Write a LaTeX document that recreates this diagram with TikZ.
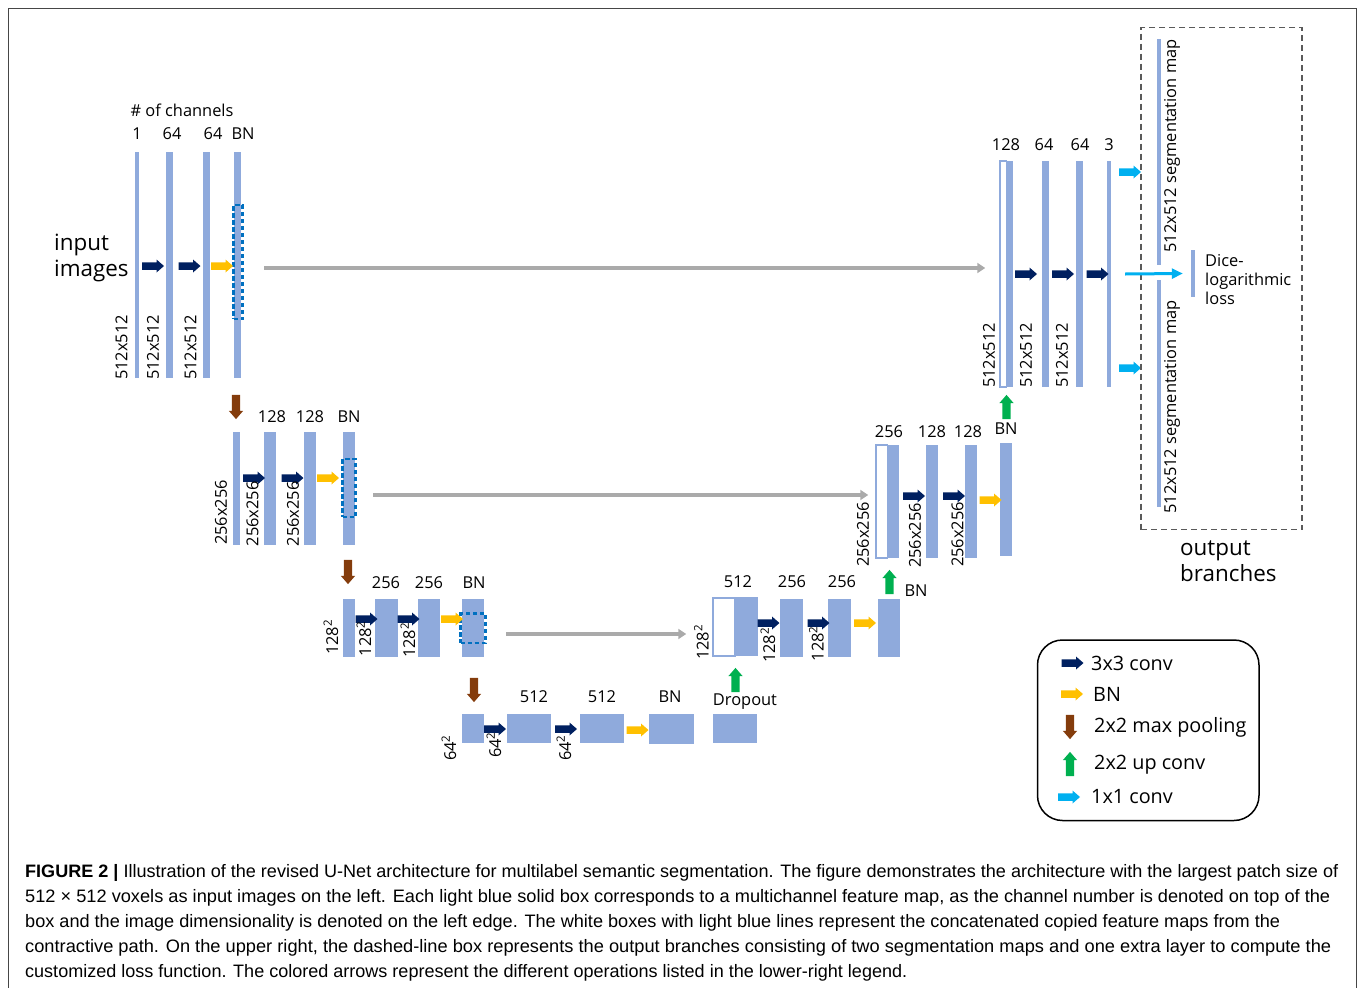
\documentclass[tikz,border=0pt]{standalone}
\usepackage{fontspec}
\usepackage{graphicx}
\setmainfont{Open Sans}
\newfontfamily\capfont{Liberation Sans}
\usetikzlibrary{arrows.meta,fit,calc}

\definecolor{mapblue}{RGB}{143,170,220}
\definecolor{navyarr}{RGB}{0,32,96}
\definecolor{goldarr}{RGB}{255,192,0}
\definecolor{brownarr}{RGB}{132,60,12}
\definecolor{greenarr}{RGB}{0,176,80}
\definecolor{cyanarr}{RGB}{0,176,240}
\definecolor{skipgray}{RGB}{170,170,170}
\definecolor{dashblue}{RGB}{0,112,192}
\definecolor{boxgray}{RGB}{90,90,90}
\definecolor{framegray}{RGB}{70,70,70}

\newcommand\chanfont{\fontsize{16.4}{19}\selectfont}
\newcommand\legfont{\fontsize{19.8}{23}\selectfont}
\newcommand\bigfont{\fontsize{22.4}{26}\selectfont}
\newcommand\capsize{\capfont\fontsize{18}{25}\selectfont}

\tikzset{
  fmap/.style={fill=mapblue, inner sep=0pt},
  catmap/.style={fill=white, draw=mapblue, line width=1.5pt, inner sep=0pt},
  bnmark/.style={draw=dashblue, line width=2.2pt, dash pattern=on 4.5pt off 2.5pt, inner sep=0pt},
  chan/.style={font=\chanfont, inner sep=0pt},
  dimlab/.style={font=\chanfont, rotate=90, anchor=west, inner sep=0pt},
  big/.style={font=\bigfont, align=left, anchor=west, inner sep=0pt},
  leg/.style={font=\legfont, anchor=west, inner sep=0pt},
  capline/.style={font=\capsize, anchor=base west, inner sep=0pt},
  skip/.style={draw=skipgray, line width=4pt, -{Triangle[length=8pt, width=10pt]}},
  outbox/.style={draw=boxgray, line width=1.3pt, dash pattern=on 6pt off 4pt, inner sep=0pt},
  legbox/.style={draw, line width=1.5pt, rounded corners=25pt, inner sep=0pt},
  pics/blk/.style={code={
    \fill[#1] (-11,-3.75) -- (3.5,-3.75) -- (3.5,-6.5) -- (11,0) -- (3.5,6.5) -- (3.5,3.75) -- (-11,3.75) -- cycle;
  }},
}

\begin{document}
\begin{tikzpicture}[x=1pt, y=-1pt]
  \useasboundingbox (0,0) rectangle (1358,988);
  \draw[framegray, line width=1pt] (8.5,988) -- (8.5,8.5) -- (1356,8.5) -- (1356,988);

  % contracting path, 512x512
  \node[fmap, fit={(135,152) (139,378)}] (e1a) {};
  \node[fmap, fit={(166,152) (173,378)}] (e1b) {};
  \node[fmap, fit={(202.5,152) (209.5,378)}] (e1c) {};
  \node[fmap, fit={(234,152) (241,378)}] (e1d) {};
  \node[bnmark, fit={(233.5,205) (242.5,319)}] (bn1) {};
  \pic at (153,266) {blk=navyarr};
  \pic at (189.5,266) {blk=navyarr};
  \pic at (222,266) {blk=goldarr};
  \node[chan] (nch) at (182,110) {\# of channels};
  \node[chan] (l1a) at (137,134) {1};
  \node[chan] (l1b) at (172,134) {64};
  \node[chan] (l1c) at (213,134) {64};
  \node[chan] (l1d) at (243,134) {BN};
  \node[dimlab] (s1a) at (121.5,380) {512x512};
  \node[dimlab] (s1b) at (153,380) {512x512};
  \node[dimlab] (s1c) at (190.5,380) {512x512};
  \node[big] (inp) at (54,258) {input\\images};

  % 256x256
  \pic[rotate=-90, scale=1.1] at (236,407) {blk=brownarr};
  \node[fmap, fit={(233,432) (240,545)}] (e2a) {};
  \node[fmap, fit={(264,432) (276,545)}] (e2b) {};
  \node[fmap, fit={(303.5,432) (315.5,545)}] (e2c) {};
  \node[fmap, fit={(342.5,432) (354.5,545)}] (e2d) {};
  \node[bnmark, fit={(342.5,459) (355.5,517)}] (bn2) {};
  \pic at (254,478) {blk=navyarr};
  \pic at (292.5,478) {blk=navyarr};
  \pic at (328,478) {blk=goldarr};
  \node[chan] (l2a) at (272,417) {128};
  \node[chan] (l2b) at (310,417) {128};
  \node[chan] (l2c) at (349,417) {BN};
  \node[dimlab] (s2a) at (221,545) {256x256};
  \node[dimlab] (s2b) at (252.5,546.5) {256x256};
  \node[dimlab] (s2c) at (293,546.5) {256x256};

  % 128x128
  \pic[rotate=-90, scale=1.1] at (348,572) {blk=brownarr};
  \node[fmap, fit={(342.5,599) (354.5,657)}] (e3a) {};
  \node[fmap, fit={(374.5,599) (397.5,657)}] (e3b) {};
  \node[fmap, fit={(418,599) (440,657)}] (e3c) {};
  \node[fmap, fit={(462,599) (484,657)}] (e3d) {};
  \node[bnmark, fit={(460.5,613.5) (485.5,643)}] (bn3) {};
  \pic at (366.5,619) {blk=navyarr};
  \pic at (408.5,619) {blk=navyarr};
  \pic at (452,619) {blk=goldarr};
  \node[chan] (l3a) at (386,583) {256};
  \node[chan] (l3b) at (429,583) {256};
  \node[chan] (l3c) at (474,583) {BN};
  \node[dimlab] (s3a) at (331,655) {128\textsuperscript{2}};
  \node[dimlab] (s3b) at (364,656.5) {128\textsuperscript{2}};
  \node[dimlab] (s3c) at (408,658) {128\textsuperscript{2}};

  % bottom, 64x64
  \pic[rotate=-90, scale=1.1] at (474,690) {blk=brownarr};
  \node[fmap, fit={(462,713.5) (484,743)}] (e4a) {};
  \node[fmap, fit={(507,713.5) (551,743)}] (e4b) {};
  \node[fmap, fit={(580,713.5) (624,743)}] (e4c) {};
  \node[fmap, fit={(648.5,714) (693.5,744)}] (e4d) {};
  \node[fmap, fit={(712.5,713.5) (756.5,743)}] (e4e) {};
  \pic at (495,729) {blk=navyarr};
  \pic at (566,729) {blk=navyarr};
  \pic at (637.5,730) {blk=goldarr};
  \pic[rotate=90, scale=1.1] at (735.5,680) {blk=greenarr};
  \node[chan] (l4a) at (534,697) {512};
  \node[chan] (l4b) at (602,697) {512};
  \node[chan] (l4c) at (670,697) {BN};
  \node[chan] (l4d) at (745,702) {Dropout};
  \node[dimlab] (s4a) at (449,761) {64\textsuperscript{2}};
  \node[dimlab] (s4b) at (494,758) {64\textsuperscript{2}};
  \node[dimlab] (s4c) at (564,761) {64\textsuperscript{2}};

  % expanding path, 128x128
  \node[catmap, fit={(713,598) (735,656)}] (d3w) {};
  \node[fmap, fit={(735,597) (757.5,656)}] (d3a) {};
  \node[fmap, fit={(780,599) (803,657)}] (d3b) {};
  \node[fmap, fit={(828,599) (851,657)}] (d3c) {};
  \node[fmap, fit={(877.5,599) (900,657)}] (d3d) {};
  \pic at (768.5,623) {blk=navyarr};
  \pic at (818.5,623) {blk=navyarr};
  \pic at (865,623) {blk=goldarr};
  \pic[rotate=90, scale=1.1] at (889.5,582) {blk=greenarr};
  \node[chan] (m3a) at (738,582) {512};
  \node[chan] (m3b) at (792,582) {256};
  \node[chan] (m3c) at (842,582) {256};
  \node[chan] (m3d) at (916,591) {BN};
  \node[dimlab] (t3a) at (701.5,660) {128\textsuperscript{2}};
  \node[dimlab] (t3b) at (768,663) {128\textsuperscript{2}};
  \node[dimlab] (t3c) at (816.5,661.5) {128\textsuperscript{2}};

  % 256x256
  \node[catmap, fit={(876,445) (887.5,558)}] (d2w) {};
  \node[fmap, fit={(887.5,445) (899,558)}] (d2a) {};
  \node[fmap, fit={(926,445) (938,558)}] (d2b) {};
  \node[fmap, fit={(964.5,445) (976.5,558)}] (d2c) {};
  \node[fmap, fit={(1000,442.5) (1012,556)}] (d2d) {};
  \pic at (914,496) {blk=navyarr};
  \pic at (954,496) {blk=navyarr};
  \pic at (990.5,500) {blk=goldarr};
  \pic[rotate=90, scale=1.1] at (1006.5,407) {blk=greenarr};
  \node[chan] (m2a) at (889,432) {256};
  \node[chan] (m2b) at (932,432) {128};
  \node[chan] (m2c) at (968,432) {128};
  \node[chan] (m2d) at (1006,429) {BN};
  \node[dimlab] (t2a) at (863,567) {256x256};
  \node[dimlab] (t2b) at (915,568) {256x256};
  \node[dimlab] (t2c) at (957.5,567) {256x256};

  % 512x512
  \node[catmap, fit={(1000,161) (1006.5,387)}] (d1w) {};
  \node[fmap, fit={(1006.5,161) (1012.5,387)}] (d1a) {};
  \node[fmap, fit={(1042,161) (1049,387)}] (d1b) {};
  \node[fmap, fit={(1076,161) (1083,387)}] (d1c) {};
  \node[fmap, fit={(1107,161) (1110.5,387)}] (d1d) {};
  \pic at (1026,274) {blk=navyarr};
  \pic at (1063,274) {blk=navyarr};
  \pic at (1097.5,274) {blk=navyarr};
  \pic at (1130,172) {blk=cyanarr};
  \pic at (1130,368) {blk=cyanarr};
  \node[chan] (m1a) at (1006,145) {128};
  \node[chan] (m1b) at (1044,145) {64};
  \node[chan] (m1c) at (1080,145) {64};
  \node[chan] (m1d) at (1109,145) {3};
  \node[dimlab] (t1a) at (989,388) {512x512};
  \node[dimlab] (t1b) at (1026,388) {512x512};
  \node[dimlab] (t1c) at (1062,388) {512x512};

  % copy connections
  \draw[skip] ($(e1d.east)+(23,3)$) -- ($(e1d.east -| d1w.west)+(-14,3)$);
  \draw[skip] ($(e2d.east)+(18.5,6.5)$) -- ($(e2d.east -| d2w.west)+(-7,6.5)$);
  \draw[skip] ($(e3d.east)+(22,6)$) -- ($(e3d.east -| d3w.west)+(-26,6)$);

  % output branches
  \node[outbox, fit={(1141,27.5) (1302,529.5)}] (outb) {};
  \node[fmap, fit={(1157,39) (1161,265)}] (seg1) {};
  \node[fmap, fit={(1157,280) (1161,507)}] (seg2) {};
  \node[fmap, fit={(1191,250) (1195,297)}] (dice) {};
  \node[chan, rotate=90] (g1) at (1172,146) {512x512 segmentation map};
  \node[chan, rotate=90] (g2) at (1172,407) {512x512 segmentation map};
  \node[chan, align=left, anchor=west] (dtxt) at (1205,280) {Dice-\\logarithmic\\loss};
  \draw[cyanarr, line width=3pt, -{Triangle[length=11pt, width=10pt]}]
    ($(d1d.east)+(14.5,0)$) -- ($(dice.west)+(-8,0)$);
  \node[big] (outl) at (1180,561) {output\\branches};

  % legend
  \node[legbox, fit={(1037.5,640) (1259,820.5)}] (legend) {};
  \pic at (1072.5,663) {blk=navyarr};
  \pic at (1072,694) {blk=goldarr};
  \pic[rotate=-90, scale=1.1] at (1070,727) {blk=brownarr};
  \pic[rotate=90, scale=1.1] at (1070,764) {blk=greenarr};
  \pic at (1069,797) {blk=cyanarr};
  \node[leg] (k1) at (1091,663) {3x3 conv};
  \node[leg] (k2) at (1093,694) {BN};
  \node[leg] (k3) at (1094,727) {2x2 max pooling};
  \node[leg] (k4) at (1094,765) {2x2 up conv};
  \node[leg] (k5) at (1091,797) {1x1 conv};

  % caption
  \node[capline] (cap1) at (25,877) {\resizebox{1313pt}{\height}{\textbf{FIGURE 2 |} Illustration of the revised U-Net architecture for multilabel semantic segmentation. The figure demonstrates the architecture with the largest patch size of}};
  \node[capline] (cap2) at (25,902) {\resizebox{1305pt}{\height}{512 × 512 voxels as input images on the left. Each light blue solid box corresponds to a multichannel feature map, as the channel number is denoted on top of the}};
  \node[capline] (cap3) at (25,927) {\resizebox{1255pt}{\height}{box and the image dimensionality is denoted on the left edge. The white boxes with light blue lines represent the concatenated copied feature maps from the}};
  \node[capline] (cap4) at (25,952) {\resizebox{1306pt}{\height}{contractive path. On the upper right, the dashed-line box represents the output branches consisting of two segmentation maps and one extra layer to compute the}};
  \node[capline] (cap5) at (25,977) {\resizebox{882pt}{\height}{customized loss function. The colored arrows represent the different operations listed in the lower-right legend.}};
\end{tikzpicture}
\end{document}
